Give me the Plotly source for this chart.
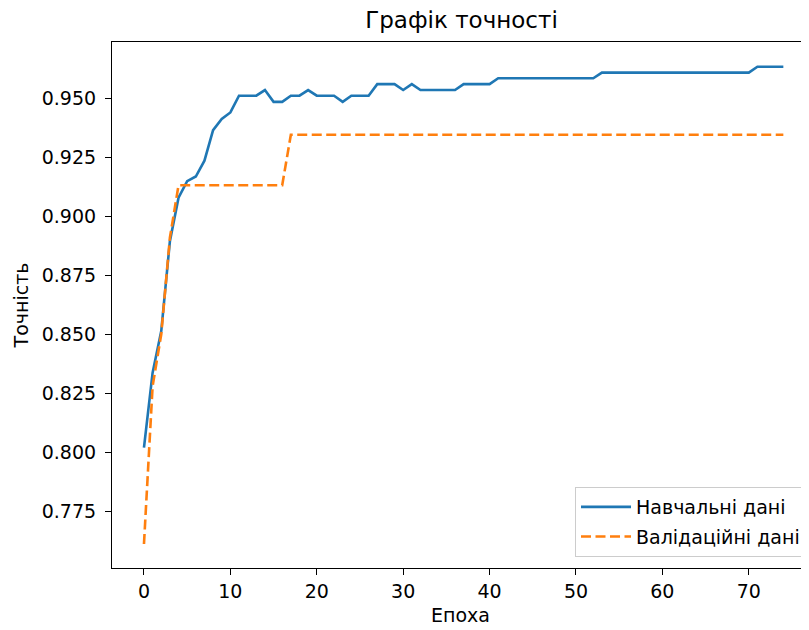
import plotly.graph_objects as go

epochs = list(range(75))

train_acc = [
    0.8019, 0.8337, 0.8514, 0.8895, 0.9080, 0.9150, 0.9170, 0.9237, 0.9367, 0.9414,
    0.9442, 0.9513, 0.9513, 0.9513, 0.9537, 0.9487, 0.9487, 0.9513, 0.9513, 0.9537,
    0.9513, 0.9513, 0.9513, 0.9487, 0.9513, 0.9513, 0.9513, 0.9562, 0.9562, 0.9562,
    0.9537, 0.9562, 0.9537, 0.9537, 0.9537, 0.9537, 0.9537, 0.9562, 0.9562, 0.9562,
    0.9562, 0.9587, 0.9587, 0.9587, 0.9587, 0.9587, 0.9587, 0.9587, 0.9587, 0.9587,
    0.9587, 0.9587, 0.9587, 0.9611, 0.9611, 0.9611, 0.9611, 0.9611, 0.9611, 0.9611,
    0.9611, 0.9611, 0.9611, 0.9611, 0.9611, 0.9611, 0.9611, 0.9611, 0.9611, 0.9611,
    0.9611, 0.9636, 0.9636, 0.9636, 0.9636,
]

val_acc = [0.7610, 0.8280, 0.8500, 0.8910] + [0.9133] * 13 + [0.9347] * 58

x_ticks = [0, 10, 20, 30, 40, 50, 60, 70]
y_ticks = [0.775, 0.800, 0.825, 0.850, 0.875, 0.900, 0.925, 0.950]
y_tick_labels = ["0.775", "0.800", "0.825", "0.850", "0.875", "0.900", "0.925", "0.950"]

title_text = "Графік точності"
x_title = "Епоха"
y_title = "Точність"
train_name = "Навчальні дані"
val_name = "Валідаційні дані"

font_family = "DejaVu Sans, Liberation Sans, sans-serif"
FS = 19

fig = go.Figure()
fig.add_trace(go.Scatter(
    x=epochs, y=train_acc, mode="lines", name=train_name, legendgroup="a",
    line=dict(color="#1f77b4", width=2.6),
))
fig.add_trace(go.Scatter(
    x=epochs, y=val_acc, mode="lines", name=val_name, legendgroup="b",
    line=dict(color="#ff7f0e", width=2.6, dash="10px,4.5px"),
))

axis_common = dict(
    showline=True, linecolor="black", linewidth=1.2,
    ticks="outside", ticklen=6, tickwidth=1.2, tickcolor="black",
    showgrid=False, zeroline=False,
    tickfont=dict(family=font_family, size=FS, color="black"),
)

# the page body adds an 8px offset, so the figure is laid out 8px smaller
W, H = 801, 622
L, R, T, B = 104, 0, 34, 62
PW, PH = W - L - R, H - T - B

fig.update_layout(
    width=W, height=H,
    margin=dict(l=L, r=R, t=T, b=B, autoexpand=False),
    paper_bgcolor="white", plot_bgcolor="white",
    font=dict(family=font_family, color="black"),
    title=dict(text=title_text, x=453.5 / W, xanchor="center", xref="container",
               y=1 - 12 / H, yanchor="middle", yref="container",
               font=dict(family=font_family, size=23, color="black")),
    xaxis=dict(range=[-3.7, 76.97], tickvals=x_ticks, mirror=True,
               title=dict(text=x_title, font=dict(family=font_family, size=FS), standoff=7),
               automargin=False,
               **axis_common),
    yaxis=dict(range=[0.7508, 0.9741], tickvals=y_ticks, ticktext=y_tick_labels, mirror=False,
               ticklabelstandoff=5,
               title=dict(text=y_title, font=dict(family=font_family, size=FS), standoff=8),
               automargin=False,
               **axis_common),
    legend=dict(x=(798 - L) / PW, xanchor="right",
                y=(560 - 549) / PH, yanchor="bottom",
                bgcolor="rgba(255,255,255,0.8)", bordercolor="#cccccc", borderwidth=1,
                font=dict(family=font_family, size=FS, color="black"),
                itemwidth=50, tracegroupgap=2),
    showlegend=True,
)

fig.write_html("out.html")
